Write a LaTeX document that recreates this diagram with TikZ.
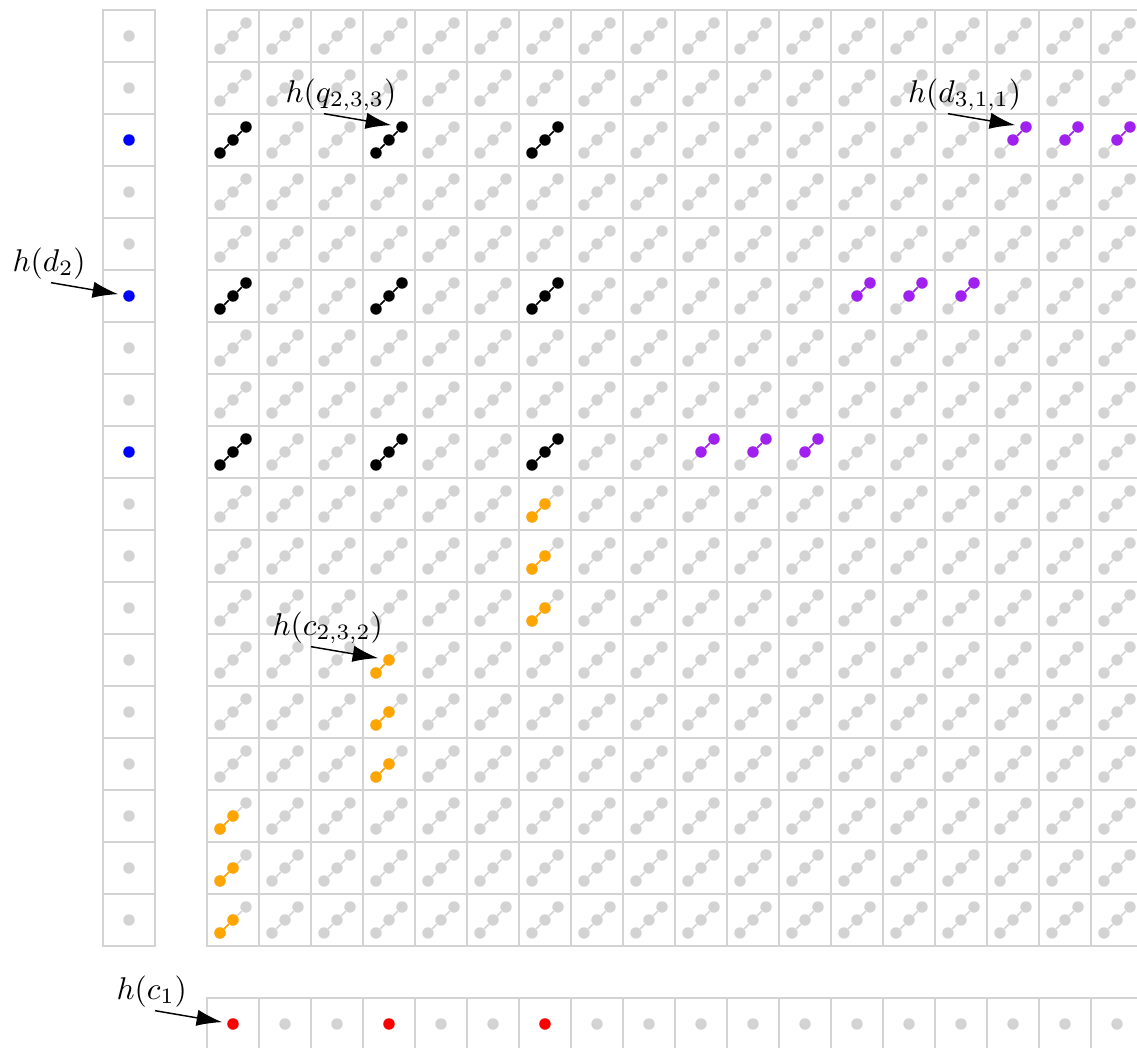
\documentclass[tikz,border=0pt]{standalone}
\usetikzlibrary{arrows.meta,calc}
\definecolor{lg}{RGB}{211,211,211}
\definecolor{myorange}{RGB}{255,165,0}
\definecolor{mypurple}{RGB}{160,32,240}
\begin{document}
\begin{tikzpicture}[x=1cm,y=1cm,
  gridline/.style={draw=lg, line width=0.7pt},
  dot/.style={circle, fill=#1, draw=none, inner sep=0pt, minimum size=0.22cm},
  link/.style={draw=#1, line width=0.8pt},
  lab/.style={anchor=base west, inner sep=0pt, font=\normalsize, scale=1.72},
  arr/.style={-{Latex[length=14pt,width=9pt]}, line width=0.8pt, shorten >=0.21cm}]
\clip (-3.981,0.1923) rectangle (17.885,-19.962);
% main grid
\foreach \r in {0,...,17}{
  \foreach \c in {0,...,17}{
    \draw[gridline] (\c,-\r-1) rectangle (\c+1,-\r);
    \path (\c+0.25,-\r-0.75) node[dot=lg] (p-\c-\r-1) {}
          (\c+0.5,-\r-0.5) node[dot=lg] (p-\c-\r-2) {}
          (\c+0.75,-\r-0.25) node[dot=lg] (p-\c-\r-3) {};
    \draw[link=lg] (p-\c-\r-1) -- (p-\c-\r-2) -- (p-\c-\r-3);
  }
}
% black cells
\foreach \r in {2,5,8}{
  \foreach \c in {0,3,6}{
    \path (p-\c-\r-1) node[dot=black] (k-\c-\r-1) {}
          (p-\c-\r-2) node[dot=black] (k-\c-\r-2) {}
          (p-\c-\r-3) node[dot=black] (k-\c-\r-3) {};
    \draw[link=black] (k-\c-\r-1) -- (k-\c-\r-2) -- (k-\c-\r-3);
  }
}
% orange cells
\foreach \c/\r in {0/15,0/16,0/17,3/12,3/13,3/14,6/9,6/10,6/11}{
  \path (p-\c-\r-1) node[dot=myorange] (o-\c-\r-1) {}
        (p-\c-\r-2) node[dot=myorange] (o-\c-\r-2) {};
  \draw[link=myorange] (o-\c-\r-1) -- (o-\c-\r-2);
}
% purple cells
\foreach \c/\r in {9/8,10/8,11/8,12/5,13/5,14/5,15/2,16/2,17/2}{
  \path (p-\c-\r-2) node[dot=mypurple] (u-\c-\r-2) {}
        (p-\c-\r-3) node[dot=mypurple] (u-\c-\r-3) {};
  \draw[link=mypurple] (u-\c-\r-2) -- (u-\c-\r-3);
}
% left column
\foreach \r in {0,...,17}{
  \draw[gridline] (-2,-\r-1) rectangle (-1,-\r);
  \node[dot=lg] (L-\r) at (-1.5,-\r-0.5) {};
}
\foreach \r in {2,5,8}{
  \node[dot=blue] (Lb-\r) at (L-\r) {};
}
% bottom row
\foreach \c in {0,...,17}{
  \draw[gridline] (\c,-20) rectangle (\c+1,-19);
  \node[dot=lg] (B-\c) at (\c+0.5,-19.5) {};
}
\foreach \c in {0,3,6}{
  \node[dot=red] (Br-\c) at (B-\c) {};
}
% labels and arrows
\node[lab] (Lq) at ($(k-3-2-3)+(-2.25,0.48)$) {$h(q_{2,3,3})$};
\coordinate (Sq) at ($(k-3-2-3)+(-1.5,0.256)$);
\draw[arr] (Sq) -- (k-3-2-3.center);

\node[lab] (Ld) at ($(u-15-2-3)+(-2.28,0.48)$) {$h(d_{3,1,1})$};
\coordinate (Sd) at ($(u-15-2-3)+(-1.5,0.256)$);
\draw[arr] (Sd) -- (u-15-2-3.center);

\node[lab] (Ld2) at ($(Lb-5)+(-2.25,0.48)$) {$h(d_2)$};
\coordinate (Sd2) at ($(Lb-5)+(-1.5,0.256)$);
\draw[arr] (Sd2) -- (Lb-5.center);

\node[lab] (Lc) at ($(o-3-12-2)+(-2.25,0.48)$) {$h(c_{2,3,2})$};
\coordinate (Sc) at ($(o-3-12-2)+(-1.5,0.256)$);
\draw[arr] (Sc) -- (o-3-12-2.center);

\node[lab] (Lc1) at ($(Br-0)+(-2.25,0.48)$) {$h(c_1)$};
\coordinate (Sc1) at ($(Br-0)+(-1.5,0.256)$);
\draw[arr] (Sc1) -- (Br-0.center);
\end{tikzpicture}
\end{document}
